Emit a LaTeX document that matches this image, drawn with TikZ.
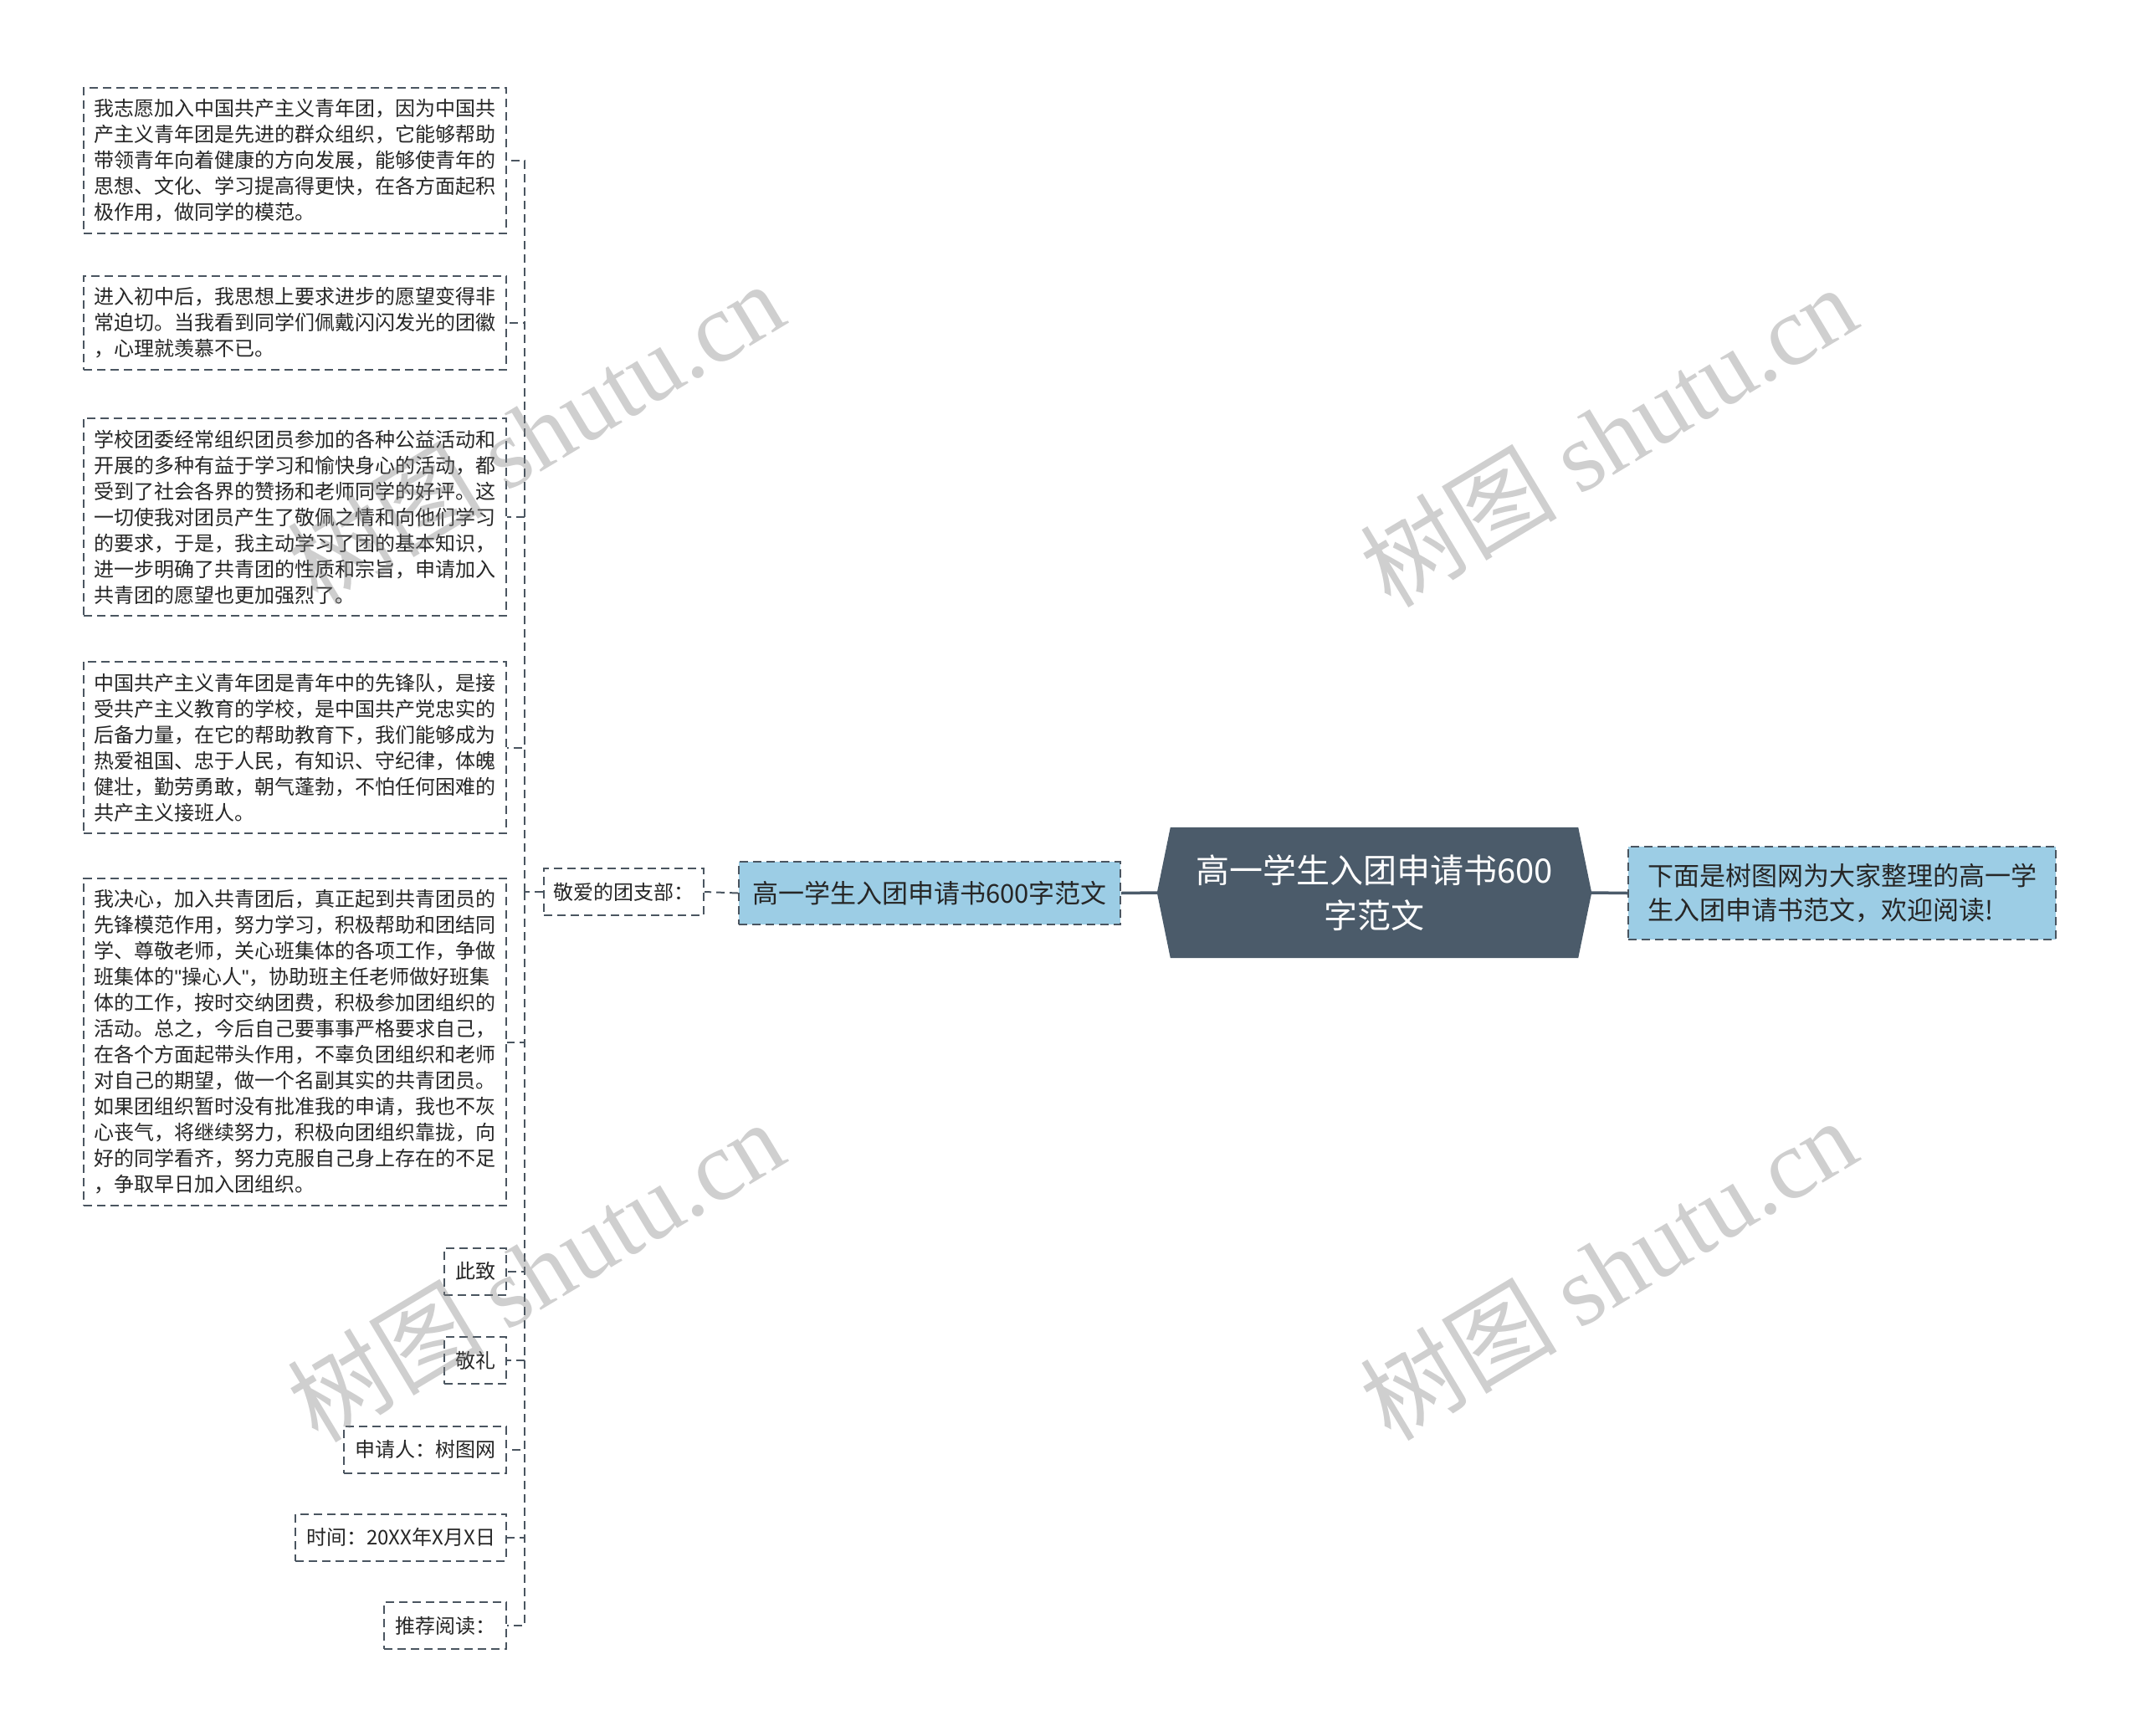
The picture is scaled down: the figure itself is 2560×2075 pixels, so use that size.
\documentclass[tikz,border=0pt]{standalone}
\usepackage{fontspec}
\setmainfont{Noto Sans CJK SC}
\newfontfamily\wmlatin{Liberation Serif}
\newfontfamily\qlatin[Ligatures=NoCommon]{Liberation Sans}
\newcommand{\sq}{{\qlatin\symbol{34}}}
\usetikzlibrary{backgrounds}
\definecolor{rootfill}{HTML}{4B5B6A}
\definecolor{bluefill}{HTML}{9CCDE5}
\definecolor{edgecol}{HTML}{4A5560}
\definecolor{txt}{HTML}{262626}
\tikzset{
  dashedge/.style={draw=edgecol, line width=2pt, dash pattern=on 10pt off 6pt},
  solidedge/.style={draw=rootfill, line width=3.5pt},
  leafbox/.style={dashedge, fill=white, text=txt, anchor=east, align=left,
    text width=480pt, inner xsep=12.5pt, inner ysep=14pt,
    font=\fontsize{24pt}{31pt}\selectfont},
  smallbox/.style={dashedge, fill=white, text=txt, anchor=east,
    inner xsep=13pt, inner ysep=0pt, minimum height=56pt,
    font=\fontsize{24pt}{31pt}\selectfont},
  bluebox/.style={dashedge, fill=bluefill, text=txt},
  wm/.style={text=gray, text opacity=0.38, rotate=31, inner sep=0pt}
}
\begin{document}
\begin{tikzpicture}[x=1pt,y=-1pt]
\useasboundingbox (0,0) rectangle (2560,2075);

% root
\node[text=white, align=center, minimum width=519pt, minimum height=156pt,
  font=\fontsize{40pt}{54pt}\selectfont] (root) at (1642.5,1067)
  {高一学生入团申请书600\\字范文};
\begin{pgfonlayer}{background}
\fill[rootfill] (root.west) -- ([xshift=16pt]root.north west) -- ([xshift=-16pt]root.north east)
  -- (root.east) -- ([xshift=-16pt]root.south east) -- ([xshift=16pt]root.south west) -- cycle;
\end{pgfonlayer}

% right summary
\node[bluebox, align=left, text width=465pt, inner xsep=23pt, minimum height=111pt,
  font=\fontsize{31pt}{41pt}\selectfont] (sum) at (2201.5,1067.5)
  {下面是树图网为大家整理的高一学\\生入团申请书范文，欢迎阅读!};

% left main branch
\node[bluebox, minimum width=456pt, minimum height=75pt,
  font=\fontsize{31pt}{40pt}\selectfont] (mid) at (1111,1067.5)
  {高一学生入团申请书600字范文};

\node[dashedge, fill=white, text=txt, minimum width=191pt, minimum height=56pt,
  font=\fontsize{24pt}{31pt}\selectfont] (dear) at (745.5,1066) {敬爱的团支部：};

% leaves
\node[leafbox] (b1) at (606,192) {我志愿加入中国共产主义青年团，因为中国共\\产主义青年团是先进的群众组织，它能够帮助\\带领青年向着健康的方向发展，能够使青年的\\思想、文化、学习提高得更快，在各方面起积\\极作用，做同学的模范。};
\node[leafbox] (b2) at (606,386) {进入初中后，我思想上要求进步的愿望变得非\\常迫切。当我看到同学们佩戴闪闪发光的团徽\\，心理就羡慕不已。};
\node[leafbox] (b3) at (606,618) {学校团委经常组织团员参加的各种公益活动和\\开展的多种有益于学习和愉快身心的活动，都\\受到了社会各界的赞扬和老师同学的好评。这\\一切使我对团员产生了敬佩之情和向他们学习\\的要求，于是，我主动学习了团的基本知识，\\进一步明确了共青团的性质和宗旨，申请加入\\共青团的愿望也更加强烈了。};
\node[leafbox] (b4) at (606,893.5) {中国共产主义青年团是青年中的先锋队，是接\\受共产主义教育的学校，是中国共产党忠实的\\后备力量，在它的帮助教育下，我们能够成为\\热爱祖国、忠于人民，有知识、守纪律，体魄\\健壮，勤劳勇敢，朝气蓬勃，不怕任何困难的\\共产主义接班人。};
\node[leafbox] (b5) at (606,1245.5) {我决心，加入共青团后，真正起到共青团员的\\先锋模范作用，努力学习，积极帮助和团结同\\学、尊敬老师，关心班集体的各项工作，争做\\班集体的\sq 操心人\sq，协助班主任老师做好班集\\体的工作，按时交纳团费，积极参加团组织的\\活动。总之，今后自己要事事严格要求自己，\\在各个方面起带头作用，不辜负团组织和老师\\对自己的期望，做一个名副其实的共青团员。\\如果团组织暂时没有批准我的申请，我也不灰\\心丧气，将继续努力，积极向团组织靠拢，向\\好的同学看齐，努力克服自己身上存在的不足\\，争取早日加入团组织。};
\node[smallbox] (s1) at (606,1519.5) {此致};
\node[smallbox] (s2) at (606,1626) {敬礼};
\node[smallbox] (s3) at (606,1732.5) {申请人：树图网};
\node[smallbox] (s4) at (606,1837.5) {时间：20XX年X月X日};
\node[smallbox] (s5) at (606,1943) {推荐阅读：};

% connectors
\draw[solidedge] (root.west) -- (mid.east);
\draw[solidedge] (root.east) -- (sum.west);
\draw[dashedge] (mid.west) -- (dear.east);
\coordinate (j) at (627,1066);
\draw[dashedge] (dear.west) -- (j);
\foreach \n in {b1,b2,b3,b4,b5,s1,s2,s3,s4,s5}{
  \draw[dashedge] (j) |- (\n.east);
}

% watermarks
\foreach \p/\q in {640/516, 640/1518, 1922/520, 1922/1516}{
  \node[wm] (w\p\q) at (\p,\q) {\fontsize{118pt}{120pt}\selectfont 树图 {\wmlatin shutu.cn}};
}
\end{tikzpicture}
\end{document}
